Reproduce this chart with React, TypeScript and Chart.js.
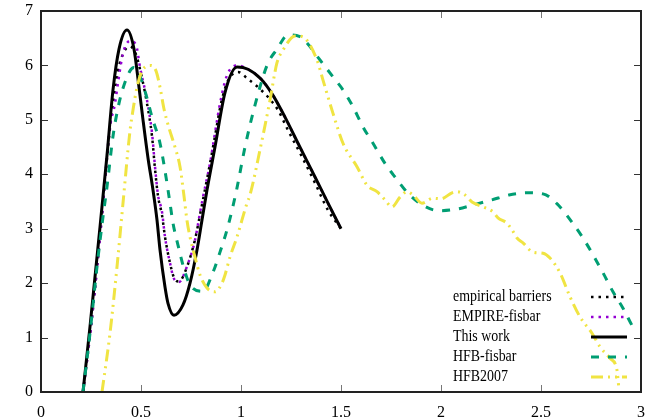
import { useEffect, useRef } from 'react';
import { Chart, registerables } from 'chart.js';

Chart.register(...registerables);

const seriesLabels = ['empirical barriers', 'EMPIRE-fisbar', 'This work', 'HFB-fisbar', 'HFB2007'];

const empiricalBarriers: [number, number][] = [
  [0.21, 0], [0.25, 1.2], [0.3, 3.05], [0.345, 4.85], [0.385, 5.9], [0.415, 6.25], [0.445, 6.35],
  [0.475, 6.2], [0.5, 5.85], [0.53, 5.3], [0.555, 4.7], [0.57, 4.1], [0.585, 3.6], [0.605, 3.25],
  [0.62, 2.85], [0.645, 2.37], [0.665, 2.1], [0.69, 2.03], [0.73, 2.3], [0.77, 2.8], [0.8, 3.35],
  [0.84, 4.1], [0.87, 4.7], [0.9, 5.3], [0.935, 5.72], [0.985, 5.88], [1.035, 5.75], [1.085, 5.6],
  [1.135, 5.42], [1.185, 5.18], [1.235, 4.81], [1.305, 4.32], [1.37, 3.84], [1.435, 3.34], [1.5, 3.0],
];

const empireFisbar: [number, number][] = [
  [0.21, 0], [0.25, 1.2], [0.3, 3.05], [0.345, 4.87], [0.37, 5.3], [0.385, 5.68], [0.41, 6.22],
  [0.445, 6.45], [0.475, 6.38], [0.495, 5.97], [0.53, 5.36], [0.555, 4.76], [0.57, 4.14],
  [0.585, 3.62], [0.605, 3.31], [0.62, 2.85], [0.645, 2.37], [0.665, 2.08], [0.69, 2.02],
  [0.73, 2.31], [0.77, 2.79], [0.795, 3.29], [0.81, 3.58], [0.845, 4.2], [0.87, 4.76],
  [0.895, 5.3], [0.93, 5.82], [0.98, 6.0], [1.035, 5.93], [1.1, 5.75], [1.16, 5.45],
  [1.22, 5.05], [1.285, 4.57], [1.37, 3.95], [1.435, 3.47], [1.5, 3.0],
];

const thisWork: [number, number][] = [
  [0.21, 0], [0.245, 1.2], [0.295, 3.03], [0.33, 4.35], [0.36, 5.55], [0.39, 6.3], [0.43, 6.65],
  [0.465, 6.3], [0.49, 5.6], [0.51, 5.0], [0.535, 4.3], [0.56, 3.71], [0.58, 3.16], [0.595, 2.61],
  [0.62, 1.93], [0.635, 1.63], [0.665, 1.41], [0.71, 1.6], [0.745, 2.0], [0.78, 2.61], [0.805, 3.16],
  [0.83, 3.71], [0.87, 4.5], [0.92, 5.5], [0.98, 5.97], [1.035, 5.93], [1.1, 5.75],
  [1.16, 5.45], [1.22, 5.05], [1.285, 4.57], [1.37, 3.95], [1.435, 3.47], [1.5, 3.0],
];

const hfbFisbar: [number, number][] = [
  [0.21, 0], [0.245, 1.08], [0.28, 2.3], [0.31, 3.22], [0.33, 3.77], [0.36, 4.7], [0.385, 5.22],
  [0.41, 5.58], [0.445, 5.9], [0.465, 5.96], [0.5, 5.75], [0.53, 5.4], [0.555, 5.05], [0.595, 4.57],
  [0.625, 3.95], [0.645, 3.47], [0.66, 3.1], [0.685, 2.7], [0.71, 2.33], [0.745, 1.97], [0.81, 1.85],
  [0.86, 2.2], [0.895, 2.57], [0.93, 2.98], [0.955, 3.34], [0.98, 3.75], [1.02, 4.5], [1.07, 5.27],
  [1.13, 6.0], [1.18, 6.3], [1.235, 6.56], [1.295, 6.53], [1.33, 6.41], [1.395, 6.1], [1.46, 5.79],
  [1.51, 5.55], [1.56, 5.24], [1.61, 4.87], [1.66, 4.57], [1.72, 4.2], [1.77, 3.95], [1.835, 3.65],
  [1.905, 3.44], [1.99, 3.33], [2.08, 3.36], [2.165, 3.44], [2.255, 3.53], [2.34, 3.62],
  [2.43, 3.66], [2.51, 3.64], [2.585, 3.44], [2.655, 3.12], [2.71, 2.83], [2.76, 2.52],
  [2.81, 2.19], [2.86, 1.84], [2.91, 1.54], [2.96, 1.19], [2.975, 1.1],
];

const hfb2007: [number, number][] = [
  [0.305, 0], [0.345, 1.08], [0.38, 2.3], [0.41, 3.47], [0.445, 4.8], [0.46, 5.18], [0.48, 5.6],
  [0.51, 5.93], [0.55, 6.0], [0.575, 5.9], [0.595, 5.6], [0.615, 5.2], [0.64, 4.85],
  [0.67, 4.5], [0.695, 4.14], [0.715, 3.6], [0.73, 3.15], [0.745, 2.85], [0.77, 2.48],
  [0.795, 2.15], [0.83, 1.91], [0.87, 1.84], [0.905, 2.0], [0.92, 2.15], [0.945, 2.48],
  [0.98, 2.85], [1.03, 3.47], [1.045, 3.62], [1.095, 4.45], [1.145, 5.36], [1.18, 6.05],
  [1.21, 6.28], [1.27, 6.54], [1.305, 6.53], [1.38, 6.1], [1.41, 5.73], [1.46, 5.12],
  [1.51, 4.57], [1.58, 4.14], [1.63, 3.8], [1.68, 3.68], [1.72, 3.53], [1.755, 3.4],
  [1.795, 3.58], [1.83, 3.68], [1.86, 3.62], [1.905, 3.47], [1.96, 3.56], [2.0, 3.55],
  [2.055, 3.66], [2.08, 3.68], [2.12, 3.62], [2.155, 3.49], [2.21, 3.4], [2.26, 3.31],
  [2.285, 3.2], [2.33, 3.1], [2.355, 2.98], [2.38, 2.83], [2.41, 2.74], [2.46, 2.57],
  [2.51, 2.55], [2.545, 2.46], [2.595, 2.19], [2.645, 1.75], [2.695, 1.38], [2.755, 1.08],
  [2.795, 0.83], [2.845, 0.62], [2.88, 0.4], [2.888, 0.12],
];

const xTickValues = [0, 0.5, 1, 1.5, 2, 2.5, 3];
const yTickValues = [0, 1, 2, 3, 4, 5, 6, 7];

const FONT = 'Liberation Serif, DejaVu Serif, serif';

const framePlugin = {
  id: 'gnuFrame',
  afterDatasetsDraw(chart: any) {
    const { ctx, chartArea } = chart;
    const { left, right, top, bottom } = chartArea;
    const xs = chart.scales.x;
    const ys = chart.scales.y;
    ctx.save();
    ctx.setLineDash([]);
    ctx.lineWidth = 1;
    ctx.strokeStyle = '#777';
    xTickValues.forEach((v) => {
      if (v <= xs.min || v >= xs.max) return;
      const px = Math.round(xs.getPixelForValue(v)) + 0.5;
      ctx.beginPath();
      ctx.moveTo(px, bottom);
      ctx.lineTo(px, bottom - 7);
      ctx.moveTo(px, top);
      ctx.lineTo(px, top + 7);
      ctx.stroke();
    });
    ctx.strokeStyle = '#333';
    yTickValues.forEach((v) => {
      if (v <= ys.min || v >= ys.max) return;
      const py = Math.round(ys.getPixelForValue(v)) + 0.5;
      ctx.beginPath();
      ctx.moveTo(left, py);
      ctx.lineTo(left + 7, py);
      ctx.moveTo(right, py);
      ctx.lineTo(right - 7, py);
      ctx.stroke();
    });
    ctx.lineWidth = 2;
    ctx.strokeStyle = '#222';
    ctx.strokeRect(left, top, right - left, bottom - top);

    // legend
    const ds = chart.data.datasets;
    const textX = right - 188;
    const lineX0 = right - 50;
    const lineX1 = right - 14;
    const baseY = bottom - 95;
    ds.forEach((d: any, i: number) => {
      const yy = baseY + i * 20;
      ctx.save();
      ctx.translate(textX, yy);
      ctx.scale(0.87, 1);
      ctx.font = `16px ${FONT}`;
      ctx.fillStyle = '#000';
      ctx.textBaseline = 'middle';
      ctx.textAlign = 'left';
      ctx.fillText(d.label, 0, 0);
      ctx.restore();
      ctx.save();
      ctx.beginPath();
      ctx.setLineDash(d.borderDash || []);
      ctx.lineCap = 'butt';
      ctx.strokeStyle = d.borderColor;
      ctx.lineWidth = d.borderWidth;
      ctx.moveTo(lineX0, yy);
      ctx.lineTo(lineX1, yy);
      ctx.stroke();
      ctx.restore();
    });
    ctx.restore();
  },
};

const toPts = (arr: [number, number][]) => arr.map(([x, y]) => ({ x, y }));

const noPad = (s: any) => {
  s.paddingTop = 0;
  s.paddingBottom = 0;
  s.paddingLeft = 0;
  s.paddingRight = 0;
};

export default function App() {
  const ref = useRef<HTMLCanvasElement | null>(null);
  useEffect(() => {
    document.body.style.margin = '0';
    if (!ref.current) return;
    const chart = new Chart(ref.current, {
      type: 'line',
      data: {
        datasets: [
          {
            label: seriesLabels[0],
            data: toPts(empiricalBarriers),
            borderColor: '#000000',
            borderWidth: 2.5,
            borderDash: [2.5, 5],
            order: 4,
          },
          {
            label: seriesLabels[1],
            data: toPts(empireFisbar),
            borderColor: '#9400D3',
            borderWidth: 2.5,
            borderDash: [2.5, 5],
            order: 3,
          },
          {
            label: seriesLabels[2],
            data: toPts(thisWork),
            borderColor: '#000000',
            borderWidth: 3,
            borderDash: [],
            order: 2,
          },
          {
            label: seriesLabels[3],
            data: toPts(hfbFisbar),
            borderColor: '#009E73',
            borderWidth: 3,
            borderDash: [8, 9],
            order: 1,
          },
          {
            label: seriesLabels[4],
            data: toPts(hfb2007),
            borderColor: '#F0E442',
            borderWidth: 3,
            borderDash: [12, 5, 2, 5, 2, 5],
            order: 0,
          },
        ] as any,
      },
      options: {
        animation: false,
        responsive: false,
        events: [],
        layout: { padding: { top: 11, right: 11, left: 0, bottom: 0 } },
        elements: {
          point: { radius: 0 },
          line: { cubicInterpolationMode: 'monotone', fill: false, borderCapStyle: 'butt' },
        },
        plugins: { legend: { display: false }, tooltip: { enabled: false } },
        scales: {
          x: {
            type: 'linear',
            min: 0,
            max: 3,
            afterFit: (s: any) => { s.height = 26; noPad(s); },
            afterBuildTicks: (s: any) => { s.ticks = xTickValues.map((v) => ({ value: v })); },
            grid: { display: false, drawTicks: false },
            border: { display: false },
            ticks: {
              padding: 11,
              color: '#000',
              font: { family: FONT, size: 16 },
              maxRotation: 0,
              autoSkip: false,
              callback: (v: any) => String(v),
            },
          },
          y: {
            type: 'linear',
            min: 0,
            max: 7,
            afterFit: (s: any) => { s.width = 41; noPad(s); },
            afterBuildTicks: (s: any) => { s.ticks = yTickValues.map((v) => ({ value: v })); },
            grid: { display: false, drawTicks: false },
            border: { display: false },
            ticks: {
              padding: 8,
              color: '#000',
              font: { family: FONT, size: 16 },
              autoSkip: false,
              callback: (v: any) => String(v),
            },
          },
        },
      },
      plugins: [framePlugin],
    });
    return () => chart.destroy();
  }, []);
  return (
    <div style={{ width: 652, height: 418 }}>
      <canvas ref={ref} width={652} height={418} />
    </div>
  );
}
